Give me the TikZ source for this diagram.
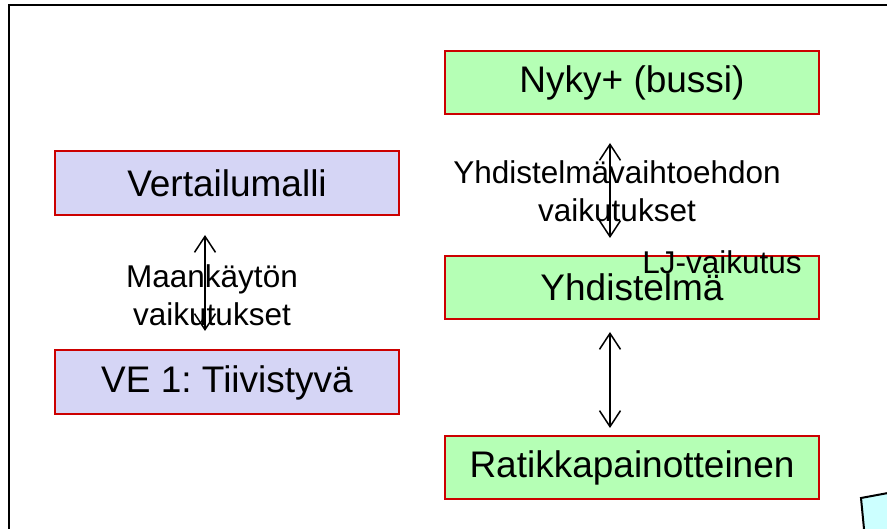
\documentclass[tikz,border=0pt]{standalone}
\usepackage{fontspec}
\setmainfont{Liberation Sans}
\usetikzlibrary{arrows.meta}
\frenchspacing

\definecolor{boxred}{RGB}{204,0,0}
\definecolor{boxgreen}{RGB}{181,255,181}
\definecolor{boxlilac}{RGB}{213,213,245}
\definecolor{notecyan}{RGB}{204,255,255}

\begin{document}
\begin{tikzpicture}[x=1pt, y=-1pt,
  altbox/.style={draw=boxred, line width=2pt, inner sep=0pt, align=center,
    font=\fontsize{37}{40}\selectfont},
  greenbox/.style={altbox, fill=boxgreen, minimum width=374pt, minimum height=63pt},
  lilacbox/.style={altbox, fill=boxlilac, minimum width=344pt, minimum height=64pt},
  effect/.style={align=center, inner sep=0pt, font=\fontsize{31.5}{38}\selectfont},
  twoway/.style={{Straight Barb[length=16pt, width=21pt]}-{Straight Barb[length=16pt, width=21pt]}, line width=1.5pt}]

\useasboundingbox (0,0) rectangle (887,529);

% Frame and note shape, cut at the page edge
\begin{scope}
\clip (0,0) rectangle (887,529);
\draw[line width=2.5pt] (9,560) -- (9,5) -- (900,5);
\draw[line width=2pt, fill=notecyan] (861,498) -- (915,488) -- (922,560) -- (868,570) -- cycle;
\end{scope}

% Land use alternatives
\node[lilacbox] (vert) at (227,183) {Vertailumalli};
\node[lilacbox] (ve1) at (227,382.5) {VE 1: Tiivistyvä};

% Transport alternatives
\node[greenbox] (nyky) at (632,82.5) {Nyky+ (bussi)};
\node[greenbox] (yhd) at (632,287.5) {\raisebox{-4pt}{Yhdistelmä}};
\node[greenbox] (ratikka) at (632,467.5) {Ratikkapainotteinen};

% Arrows
\coordinate (mkA) at (205,235);
\coordinate (mkB) at (205,331);
\draw[twoway] (mkA) -- (mkB);
\coordinate (yvA) at (610,143);
\coordinate (yvB) at (610,238);
\draw[twoway] (yvA) -- (yvB);
\coordinate (ljA) at (610,332);
\coordinate (ljB) at (610,428);
\draw[twoway] (ljA) -- (ljB);

% Labels
\node[effect] (mklabel) at (212,295) {Maankäytön\\vaikutukset};
\node[effect] (yvlabel) at (617,191) {Yhdistelmävaihtoehdon\\vaikutukset};
\node[effect] (ljlabel) at (722,262) {LJ-vaikutus};

\end{tikzpicture}
\end{document}
